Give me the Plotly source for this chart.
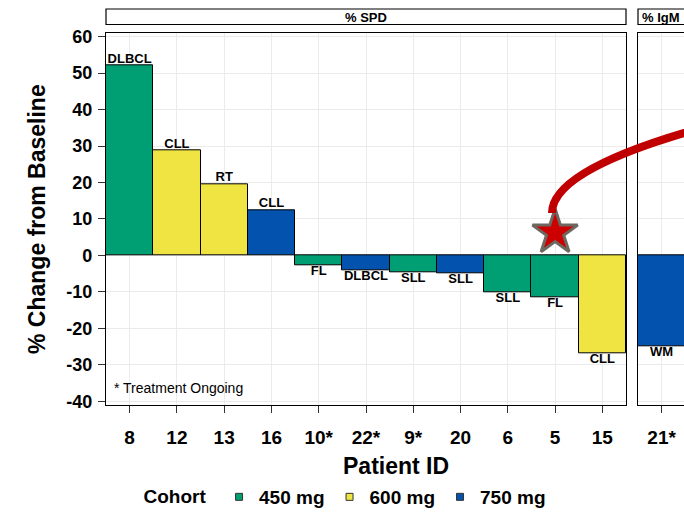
import plotly.graph_objects as go

# ---------------- data ----------------
patients = ["8", "12", "13", "16", "10*", "22*", "9*", "20", "6", "5", "15"]
spd_change = [52.0, 28.7, 19.6, 12.5, -2.6, -4.0, -4.5, -4.8, -10.0, -11.4, -26.8]
histology = ["DLBCL", "CLL", "RT", "CLL", "FL", "DLBCL", "SLL", "SLL", "SLL", "FL", "CLL"]
cohort = ["450 mg", "600 mg", "600 mg", "750 mg", "450 mg", "750 mg", "450 mg",
          "750 mg", "450 mg", "450 mg", "600 mg"]

igm_patients = ["21*"]
igm_change = [-24.8]
igm_histology = ["WM"]
igm_cohort = ["750 mg"]

cohort_levels = ["450 mg", "600 mg", "750 mg"]
cohort_colors = {"450 mg": "#009E73", "600 mg": "#F0E442", "750 mg": "#0352AD"}

star_patient = "5"
star_value = 6.3

y_ticks = [-40, -30, -20, -10, 0, 10, 20, 30, 40, 50, 60]
y_ticktext = [str(v) for v in y_ticks]

# ---------------- layout helpers ----------------
W, H = 684, 513
def px(x):
    return x / W
def py(y):
    return 1 - y / H

FONT = "Liberation Sans, Arial, Helvetica, sans-serif"
BOLD = dict(family=FONT, color="black", weight="bold")

fig = go.Figure()

# bars, left panel (% SPD)
for c in cohort_levels:
    xs = [p for p, k in zip(patients, cohort) if k == c]
    ys = [v for v, k in zip(spd_change, cohort) if k == c]
    fig.add_trace(go.Bar(
        x=xs, y=ys, name=c, width=1.0,
        marker=dict(color=cohort_colors[c], line=dict(color="black", width=1)),
        xaxis="x", yaxis="y", legendgroup=c, showlegend=False))

# bar, right panel (% IgM)
for c in cohort_levels:
    xs = [p for p, k in zip(igm_patients, igm_cohort) if k == c]
    ys = [v for v, k in zip(igm_change, igm_cohort) if k == c]
    if xs:
        fig.add_trace(go.Bar(
            x=xs, y=ys, name=c, width=1.0,
            marker=dict(color=cohort_colors[c], line=dict(color="black", width=1)),
            xaxis="x2", yaxis="y2", legendgroup=c, showlegend=False))

# legend keys (small squares, as in the reference)
for c in cohort_levels:
    fig.add_trace(go.Scatter(
        x=[None], y=[None], mode="markers", name=c, legendgroup=c,
        marker=dict(symbol="square", size=7, color=cohort_colors[c],
                    line=dict(color="#333333", width=1)),
        xaxis="x", yaxis="y", showlegend=True))

# histology labels
def add_labels(xs, ys, labels, xa, ya):
    fig.add_trace(go.Scatter(
        x=xs, y=ys, text=labels, mode="text",
        textposition=["top center" if v >= 0 else "bottom center" for v in ys],
        textfont=dict(size=13, **BOLD), cliponaxis=False,
        xaxis=xa, yaxis=ya, showlegend=False, hoverinfo="skip"))

add_labels(patients, spd_change, histology, "x", "y")
add_labels(igm_patients, igm_change, igm_histology, "x2", "y2")

# star marker
fig.add_trace(go.Scatter(
    x=[star_patient], y=[star_value], mode="markers",
    marker=dict(symbol="star", size=34, color="#CC0000",
                line=dict(color="#6E6860", width=3)),
    xaxis="x", yaxis="y", showlegend=False, hoverinfo="skip", cliponaxis=False))

y_domain = [py(405), py(33.3)]
y_range = [-41.0, 60.9]

axis_common = dict(
    showline=True, linecolor="black", linewidth=1.3,
    gridcolor="#EBEBEB", gridwidth=1, zeroline=False,
)

fig.update_layout(
    width=W, height=H,
    margin=dict(l=0, r=0, t=0, b=0, autoexpand=False),
    paper_bgcolor="white", plot_bgcolor="white",
    barmode="relative", bargap=0,
    font=dict(family=FONT, color="black"),
    xaxis=dict(
        domain=[px(106), px(626)], type="category",
        categoryorder="array", categoryarray=patients, range=[-0.5, 10.5],
        mirror=True, ticks="outside", ticklen=7, tickcolor="#333333", tickwidth=1.2,
        tickfont=dict(size=19, **BOLD), ticklabelstandoff=8,
        anchor="y", **axis_common),
    yaxis=dict(
        domain=y_domain, range=y_range, tickmode="array", tickvals=y_ticks,
        ticktext=y_ticktext,
        mirror=True, ticks="outside", ticklen=7, tickcolor="#333333", tickwidth=1.2,
        tickfont=dict(size=18, **BOLD), ticklabelstandoff=2,
        title=dict(text="% Change from Baseline", font=dict(size=23, **BOLD), standoff=14),
        anchor="x", **axis_common),
    xaxis2=dict(
        domain=[px(638), 1.0], type="category",
        categoryorder="array", categoryarray=igm_patients, range=[-0.5, 0.473],
        mirror=True, ticks="outside", ticklen=7, tickcolor="#333333", tickwidth=1.2,
        tickfont=dict(size=19, **BOLD), ticklabelstandoff=8,
        anchor="y2", **axis_common),
    yaxis2=dict(
        domain=y_domain, range=y_range, tickmode="array", tickvals=y_ticks,
        matches="y", showticklabels=False, ticks="", mirror=False,
        anchor="x2", **axis_common),
    legend=dict(
        orientation="h", x=px(346), xanchor="center", y=py(497), yanchor="middle",
        title=dict(text="Cohort ", font=dict(size=19, **BOLD)),
        font=dict(size=19, **BOLD), bgcolor="rgba(0,0,0,0)",
        itemwidth=30, tracegroupgap=0, itemsizing="trace"),
    showlegend=True,
)

# facet strips
fig.add_shape(type="rect", xref="paper", yref="paper",
              x0=px(106), x1=px(626), y0=py(24.5), y1=py(9),
              line=dict(color="black", width=1.2), fillcolor="white")
fig.add_shape(type="rect", xref="paper", yref="paper",
              x0=px(638), x1=px(700), y0=py(24.5), y1=py(9),
              line=dict(color="black", width=1.2), fillcolor="white")
fig.add_annotation(text="% SPD", xref="paper", yref="paper", x=px(366), y=py(17),
                   xanchor="center", yanchor="middle",
                   showarrow=False, font=dict(size=13, **BOLD))
fig.add_annotation(text="% IgM", xref="paper", yref="paper", x=px(661), y=py(17),
                   xanchor="center", yanchor="middle",
                   showarrow=False, font=dict(size=13, **BOLD))

# x title across both panels
fig.add_annotation(text="Patient ID", xref="paper", yref="paper", x=px(396), y=py(466),
                   xanchor="center", yanchor="middle",
                   showarrow=False, font=dict(size=23, **BOLD))

# footnote
fig.add_annotation(text="* Treatment Ongoing", xref="paper", yref="paper",
                   x=px(112), y=py(388), xanchor="left", yanchor="middle", showarrow=False,
                   font=dict(size=14, family=FONT, color="black"))

# red curved arrow from the star
fig.add_shape(type="path", xref="paper", yref="paper",
              path=f"M {px(552)},{py(213)} Q {px(552)},{py(167)} {px(720)},{py(123)}",
              line=dict(color="#C00000", width=8), fillcolor="rgba(0,0,0,0)",
              layer="above")

fig.write_html("out.html")
